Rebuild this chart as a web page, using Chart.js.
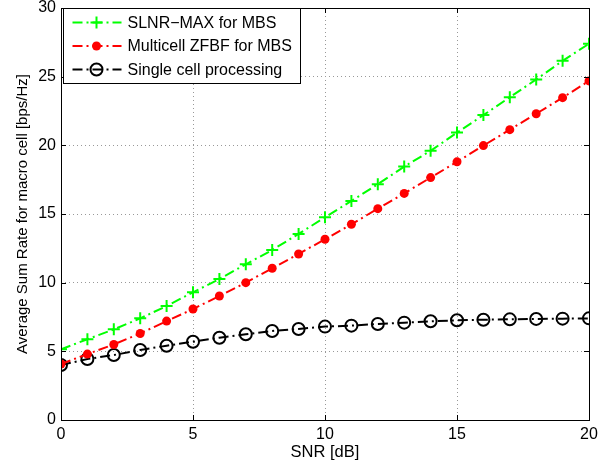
<!DOCTYPE html>
<html>
<head>
<meta charset="utf-8">
<script src="https://cdn.jsdelivr.net/npm/chart.js@4/dist/chart.umd.min.js"></script>
<style>
  html, body { margin: 0; padding: 0; background: #fff; }
  #wrap { width: 616px; height: 466px; }
</style>
</head>
<body>
<div id="wrap"><canvas id="grafico" width="616" height="466"></canvas></div>
<script>
// Datos
const snr = [0, 1, 2, 3, 4, 5, 6, 7, 8, 9, 10, 11, 12, 13, 14, 15, 16, 17, 18, 19, 20];
const slnrMax = [5.15, 5.88, 6.6, 7.4, 8.3, 9.3, 10.27, 11.34, 12.38, 13.55, 14.76,
                 15.95, 17.17, 18.45, 19.6, 20.93, 22.2, 23.5, 24.8, 26.15, 27.4];
const multicellZf = [4.08, 4.8, 5.5, 6.3, 7.2, 8.08, 9.03, 10.0, 11.05, 12.09, 13.16,
                     14.25, 15.39, 16.5, 17.65, 18.8, 19.98, 21.14, 22.3, 23.47, 24.69];
const singleCell = [4.0, 4.44, 4.73, 5.1, 5.41, 5.7, 5.99, 6.24, 6.48, 6.63, 6.8,
                    6.87, 6.99, 7.09, 7.19, 7.26, 7.3, 7.33, 7.36, 7.38, 7.4];
const seriesNames = ['SLNR\u2212MAX for MBS', 'Multicell ZFBF for MBS', 'Single cell processing'];
const xTicks = [0, 5, 10, 15, 20];
const yTicks = [0, 5, 10, 15, 20, 25, 30];

const FONT = '"Liberation Sans", Arial, Helvetica, sans-serif';
const dashDot = [10, 4, 2, 4];

function puntos(valores) {
    return snr.map((x, i) => ({ x: x, y: valores[i] }));
}

// Ejes tipo MATLAB: caja, marcas hacia dentro y leyenda interior
const marcoPlugin = {
    id: 'marco',
    afterDatasetsDraw(chart) {
        const ctx = chart.ctx;
        const a = chart.chartArea;
        const xs = chart.scales.x, ys = chart.scales.y;
        ctx.save();
        ctx.strokeStyle = '#000';
        ctx.lineWidth = 1;
        ctx.setLineDash([]);
        ctx.beginPath();
        xTicks.forEach(v => {
            const px = Math.round(xs.getPixelForValue(v)) + 0.5;
            ctx.moveTo(px, a.bottom); ctx.lineTo(px, a.bottom - 5);
            ctx.moveTo(px, a.top); ctx.lineTo(px, a.top + 5);
        });
        yTicks.forEach(v => {
            const py = Math.round(ys.getPixelForValue(v)) + 0.5;
            ctx.moveTo(a.left, py); ctx.lineTo(a.left + 5, py);
            ctx.moveTo(a.right, py); ctx.lineTo(a.right - 5, py);
        });
        ctx.stroke();
        ctx.strokeRect(Math.round(a.left) + 0.5, Math.round(a.top) + 0.5,
                       Math.round(a.right - a.left), Math.round(a.bottom - a.top));

        // leyenda
        const bx = 63.5, by = 8.5, bw = 237, bh = 75;
        ctx.fillStyle = '#fff';
        ctx.fillRect(bx, by, bw, bh);
        ctx.strokeRect(bx, by, bw, bh);
        chart.data.datasets.forEach((ds, i) => {
            const yy = by + 14 + i * 23.5;
            ctx.strokeStyle = ds.borderColor;
            ctx.lineWidth = 2;
            ctx.setLineDash(dashDot);
            ctx.beginPath();
            ctx.moveTo(bx + 9, yy); ctx.lineTo(bx + 58, yy);
            ctx.stroke();
            ctx.setLineDash([]);
            const mx = bx + 33;
            ctx.beginPath();
            if (ds.pointStyle === 'cross') {
                ctx.moveTo(mx - 6, yy); ctx.lineTo(mx + 6, yy);
                ctx.moveTo(mx, yy - 6); ctx.lineTo(mx, yy + 6);
                ctx.stroke();
            } else if (ds.pointStyle === 'circle' && ds.pointBackgroundColor !== 'transparent') {
                ctx.fillStyle = ds.pointBackgroundColor;
                ctx.arc(mx, yy, ds.pointRadius, 0, Math.PI * 2);
                ctx.fill();
            } else {
                ctx.arc(mx, yy, ds.pointRadius, 0, Math.PI * 2);
                ctx.stroke();
            }
            ctx.fillStyle = '#000';
            ctx.font = '16px ' + FONT;
            ctx.textBaseline = 'middle';
            ctx.fillText(ds.label, bx + 64, yy + 1);
        });
        ctx.restore();
    }
};

const ctx = document.getElementById('grafico').getContext('2d');
new Chart(ctx, {
    type: 'line',
    data: {
        datasets: [{
            label: seriesNames[0],
            data: puntos(slnrMax),
            borderColor: '#00ff00',
            borderWidth: 2,
            borderDash: dashDot,
            pointStyle: 'cross',
            pointRadius: 6,
            pointBorderWidth: 2,
            pointBorderColor: '#00ff00',
            pointBackgroundColor: '#00ff00',
            fill: false,
            tension: 0
        }, {
            label: seriesNames[1],
            data: puntos(multicellZf),
            borderColor: '#ff0000',
            borderWidth: 2,
            borderDash: dashDot,
            pointStyle: 'circle',
            pointRadius: 4.5,
            pointBorderWidth: 0,
            pointBorderColor: '#ff0000',
            pointBackgroundColor: '#ff0000',
            fill: false,
            tension: 0
        }, {
            label: seriesNames[2],
            data: puntos(singleCell),
            borderColor: '#000000',
            borderWidth: 2,
            borderDash: dashDot,
            pointStyle: 'circle',
            pointRadius: 6,
            pointBorderWidth: 2,
            pointBorderColor: '#000000',
            pointBackgroundColor: 'transparent',
            fill: false,
            tension: 0
        }]
    },
    options: {
        responsive: false,
        animation: false,
        layout: { padding: { left: 14, top: 8, right: 27, bottom: 4 } },
        plugins: {
            legend: { display: false },
            tooltip: { enabled: false }
        },
        scales: {
            x: {
                type: 'linear',
                min: 0, max: 20,
                afterFit: s => { s.height = 42; s.paddingLeft = 0; s.paddingRight = 0; },
                afterBuildTicks: s => { s.ticks = xTicks.map(v => ({ value: v })); },
                grid: { color: '#999', borderDash: [1, 3], drawTicks: false, tickLength: 0 },
                border: { display: false, dash: [1, 3] },
                ticks: { color: '#000', font: { family: FONT, size: 16 }, padding: 5, maxRotation: 0 },
                title: { display: true, text: 'SNR [dB]', color: '#000', font: { family: FONT, size: 16.5 }, padding: { top: 0, bottom: 0 } }
            },
            y: {
                type: 'linear',
                min: 0, max: 30,
                afterFit: s => { s.width = 47; s.paddingTop = 0; s.paddingBottom = 0; },
                afterBuildTicks: s => { s.ticks = yTicks.map(v => ({ value: v })); },
                grid: { color: '#999', borderDash: [1, 3], drawTicks: false, tickLength: 0 },
                border: { display: false, dash: [1, 3] },
                ticks: { color: '#000', font: { family: FONT, size: 16 }, padding: 5 },
                title: { display: true, text: 'Average Sum Rate for macro cell [bps/Hz]', color: '#000', font: { family: FONT, size: 15 }, padding: { top: 0, bottom: 0 } }
            }
        }
    },
    plugins: [marcoPlugin]
});
</script>
</body>
</html>
